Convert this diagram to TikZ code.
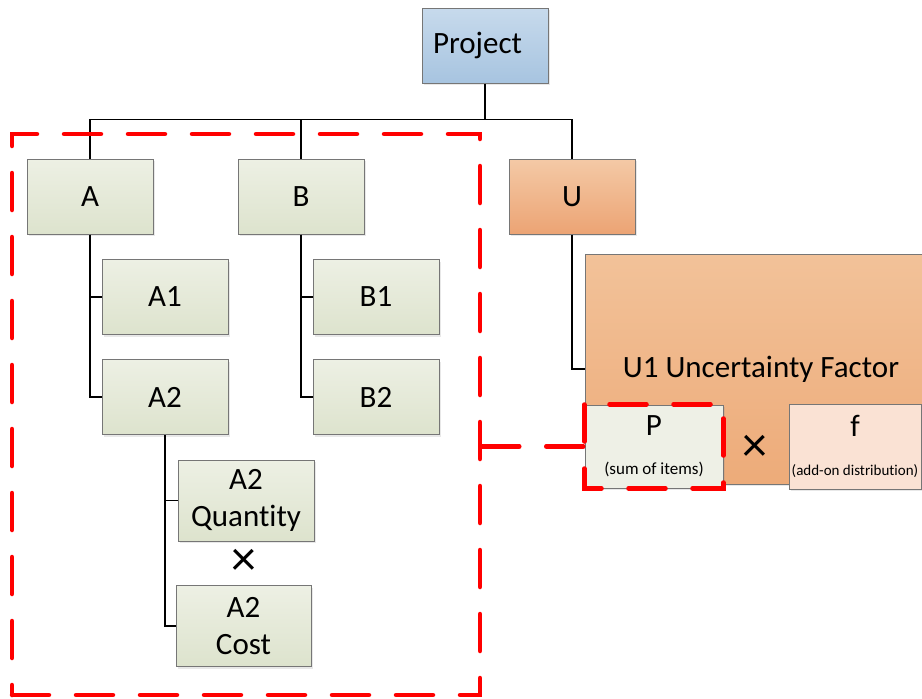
\documentclass[tikz,border=0pt]{standalone}
\usepackage{fontspec}
\setmainfont{Carlito}[Ligatures=NoCommon]
\usetikzlibrary{shadows}
\definecolor{boxline}{RGB}{118,118,118}
\definecolor{grntop}{RGB}{237,240,228}
\definecolor{grnbot}{RGB}{221,227,205}
\definecolor{blutop}{RGB}{199,218,236}
\definecolor{blubot}{RGB}{167,196,224}
\definecolor{orgtop}{RGB}{244,201,166}
\definecolor{orgbot}{RGB}{236,164,116}
\definecolor{uonetop}{RGB}{242,194,153}
\definecolor{uonebot}{RGB}{237,171,121}
\definecolor{pfill}{RGB}{238,240,230}
\definecolor{ffill}{RGB}{250,226,212}
\begin{document}
\begin{tikzpicture}[x=1pt, y=-1pt,
	box/.style={draw=boxline, line width=1pt, minimum width=126pt, minimum height=75pt,
		inner sep=0pt, align=center, font=\fontsize{31}{37}\selectfont,
		drop shadow={opacity=0.18, shadow xshift=2pt, shadow yshift=-2pt}},
	greenbox/.style={box, top color=grntop, bottom color=grnbot},
	bluebox/.style={box, top color=blutop, bottom color=blubot},
	orangebox/.style={box, top color=orgtop, bottom color=orgbot},
	link/.style={draw=black, line width=1.5pt},
	reddash/.style={draw=red, line width=4.5pt, line cap=round, dash pattern=on 37pt off 27pt},
	timesign/.style={inner sep=0pt, font=\fontsize{50}{54}\selectfont}]
	\useasboundingbox[fill=white] (0,0) rectangle (922,699);
	%top
	\node[bluebox, text width=104pt, align=left] (proj) at (485,45.5) {Project};
	\node[greenbox] (A) at (90,196.5) {A};
	\node[greenbox] (B) at (301,196.5) {B};
	\node[orangebox] (U) at (572,196.5) {U};
	%A and B branches
	\node[greenbox] (A1) at (165,297) {A1};
	\node[greenbox] (A2) at (165,397) {A2};
	\node[greenbox] (B1) at (376,297) {B1};
	\node[greenbox] (B2) at (376,397) {B2};
	\node[greenbox, minimum width=136pt, minimum height=81pt] (A2q) at (246,500.5) {A2\\Quantity};
	\node[timesign] (times1) at (244,562) {×};
	\node[greenbox, minimum width=135pt, minimum height=81pt] (A2c) at (243.5,626) {A2\\Cost};
	%uncertainty
	\node[box, top color=uonetop, bottom color=uonebot, minimum width=352pt, minimum height=230pt] (U1) at (761,369) {U1 Uncertainty Factor};
	\node[box, fill=pfill, drop shadow={opacity=0}, minimum width=138pt, minimum height=83pt] (P) at (654,446.5)
		{P\\[2pt]{\fontsize{17}{20}\selectfont(sum of items)}};
	\node[timesign] (times2) at (755,448) {×};
	\node[box, fill=ffill, drop shadow={opacity=0}, minimum width=132pt, minimum height=85pt] (f) at (855,446.5)
		{f\\[2pt]{\fontsize{15}{18}\selectfont(add-on distribution)}};
	%connectors
	\draw[link] (proj.south) -- ++(0,36) coordinate (hub) -| (U.north);
	\draw[link] (hub) -| (A.north);
	\draw[link] (hub) -| (B.north);
	\draw[link] (A.south) |- (A1.west);
	\draw[link] (A.south) |- (A2.west);
	\draw[link] (B.south) |- (B1.west);
	\draw[link] (B.south) |- (B2.west);
	\draw[link] (A2.south) |- (A2q.west);
	\draw[link] (A2.south) |- (A2c.west);
	\draw[link] (U.south) |- (U1.west);
	%red frames
	\node[reddash, inner sep=0pt, minimum width=468pt, minimum height=561pt] (grp) at (246,414.5) {};
	\draw[reddash] (P.north west) rectangle (P.south east);
	\draw[reddash] (grp.east |- P.west) -- (P.west);
\end{tikzpicture}
\end{document}
